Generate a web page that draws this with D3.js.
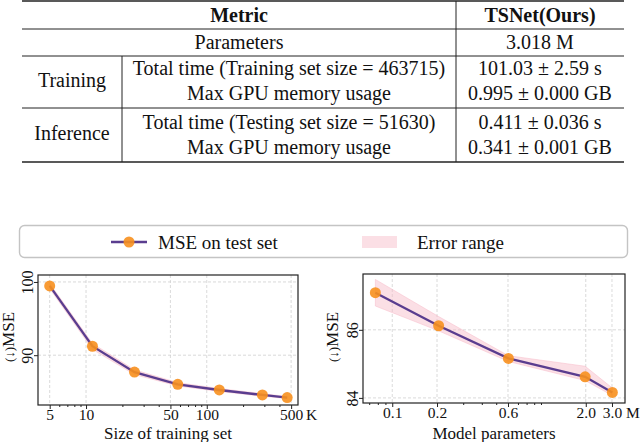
<!DOCTYPE html>
<html>
<head>
<meta charset="utf-8">
<script src="https://cdn.jsdelivr.net/npm/d3@7"></script>
<style>
  body { margin: 0; background: #fff; }
  svg text { font-family: "Liberation Serif", "Times New Roman", serif; fill: #111; }
</style>
</head>
<body>
<div id="chart"></div>
<script>
// Table content
var tableHeader = ["Metric", "TSNet(Ours)"];
var phaseLabels = ["Training", "Inference"];
var rowMetrics = ["Parameters",
    "Total time (Training set size = 463715)", "Max GPU memory usage",
    "Total time (Testing set size = 51630)", "Max GPU memory usage"];
var rowResults = ["3.018 M", "101.03 ± 2.59 s", "0.995 ± 0.000 GB", "0.411 ± 0.036 s", "0.341 ± 0.001 GB"];

// Legend
var legendLabels = ["MSE on test set", "Error range"];

// Left chart: size of training set (K)
var trainSizes = [5, 11.3, 25.2, 57.5, 127, 289, 463.7];
var trainMse = [99.46, 91.22, 87.69, 86.02, 85.25, 84.57, 84.22];
var trainLow = [99.1, 90.8, 87.35, 85.8, 85.05, 84.4, 84.08];
var trainHigh = [99.8, 91.6, 88.0, 86.25, 85.45, 84.75, 84.36];
var sizeTicks = [5, 10, 50, 100, 500];
var sizeMinor = [6, 7, 8, 9, 20, 30, 40, 60, 70, 80, 90, 200, 300, 400];
var trainMseTicks = [90, 100];

// Right chart: model parameters (M)
var modelParams = [0.077, 0.205, 0.604, 1.98, 3.018];
var paramMse = [87.09, 86.12, 85.16, 84.62, 84.16];
var paramLow = [86.70, 85.97, 85.07, 84.51, 84.07];
var paramHigh = [87.48, 86.39, 85.24, 84.93, 84.29];
var paramTicks = [0.1, 0.2, 0.6, 2.0, 3.0];
var paramMinor = [0.07, 0.08, 0.09, 0.3, 0.4, 0.5, 0.7, 0.8, 0.9, 1.0];
var paramMseTicks = [84, 86];

function init() {
    var w = 640, h = 442;
    var svg = d3.select("#chart").append("svg")
        .attr("width", w)
        .attr("height", h);

    var purple = "#5a3d8f";
    var orange = "#f7901e";
    var pink = "#f7b8c6";

    // ---------- table ----------
    var tLeft = 22, tRight = 624, tSplit = 456, tInner = 122;
    var rules = [1, 29, 56, 108, 162];
    var rowY = [42, 68, 93, 122, 147];
    var phaseY = [80, 133];

    rules.forEach(function (y, i) {
        svg.append("line")
            .attr("x1", tLeft).attr("x2", tRight)
            .attr("y1", y).attr("y2", y)
            .attr("stroke", "#222")
            .attr("stroke-width", (i === 0 || i === rules.length - 1) ? 1.6 : 1);
    });
    svg.append("line")
        .attr("x1", tSplit).attr("x2", tSplit)
        .attr("y1", rules[0]).attr("y2", rules[4])
        .attr("stroke", "#222");
    svg.append("line")
        .attr("x1", tInner).attr("x2", tInner)
        .attr("y1", rules[2]).attr("y2", rules[4])
        .attr("stroke", "#222");

    svg.append("text")
        .attr("x", (tLeft + tSplit) / 2).attr("y", 15).attr("dy", "0.35em")
        .attr("text-anchor", "middle").attr("font-size", 20).attr("font-weight", "bold")
        .text(tableHeader[0]);
    svg.append("text")
        .attr("x", (tSplit + tRight) / 2).attr("y", 15).attr("dy", "0.35em")
        .attr("text-anchor", "middle").attr("font-size", 20).attr("font-weight", "bold")
        .text(tableHeader[1]);

    svg.selectAll(".metric")
        .data(rowMetrics)
        .enter().append("text")
        .attr("class", "metric")
        .attr("x", function (d, i) { return i === 0 ? (tLeft + tSplit) / 2 : (tInner + tSplit) / 2; })
        .attr("y", function (d, i) { return rowY[i]; })
        .attr("dy", "0.35em")
        .attr("text-anchor", "middle")
        .attr("font-size", 20)
        .text(function (d) { return d; });

    svg.selectAll(".result")
        .data(rowResults)
        .enter().append("text")
        .attr("class", "result")
        .attr("x", (tSplit + tRight) / 2)
        .attr("y", function (d, i) { return rowY[i]; })
        .attr("dy", "0.35em")
        .attr("text-anchor", "middle")
        .attr("font-size", 20)
        .text(function (d) { return d; });

    svg.selectAll(".phase")
        .data(phaseLabels)
        .enter().append("text")
        .attr("class", "phase")
        .attr("x", (tLeft + tInner) / 2)
        .attr("y", function (d, i) { return phaseY[i]; })
        .attr("dy", "0.35em")
        .attr("text-anchor", "middle")
        .attr("font-size", 20)
        .text(function (d) { return d; });

    // ---------- legend ----------
    var lg = svg.append("g");
    lg.append("rect")
        .attr("x", 19.5).attr("y", 225.5)
        .attr("width", 608).attr("height", 32)
        .attr("rx", 5)
        .attr("fill", "#fff")
        .attr("stroke", "#c4c4c4")
        .attr("stroke-width", 1.4);
    lg.append("line")
        .attr("x1", 111).attr("x2", 147).attr("y1", 242).attr("y2", 242)
        .attr("stroke", purple).attr("stroke-width", 2.5);
    lg.append("circle")
        .attr("cx", 129).attr("cy", 242).attr("r", 5.5)
        .attr("fill", orange).attr("fill-opacity", 0.9);
    lg.append("text")
        .attr("x", 158).attr("y", 242).attr("dy", "0.35em")
        .attr("font-size", 19)
        .text(legendLabels[0]);
    lg.append("rect")
        .attr("x", 362).attr("y", 236)
        .attr("width", 35).attr("height", 12)
        .attr("fill", pink).attr("fill-opacity", 0.45);
    lg.append("text")
        .attr("x", 417).attr("y", 242).attr("dy", "0.35em")
        .attr("font-size", 19)
        .text(legendLabels[1]);

    // ---------- charts ----------
    function drawChart(o) {
        var x = d3.scaleLog().domain(o.xDomain).range([o.left, o.right]);
        var y = d3.scaleLinear().domain(o.yDomain).range([o.bottom, o.top]);
        var g = svg.append("g");

        // grid
        g.selectAll(".gx").data(o.xTicks).enter().append("line")
            .attr("x1", function (d) { return x(d); }).attr("x2", function (d) { return x(d); })
            .attr("y1", o.top).attr("y2", o.bottom)
            .attr("stroke", "#d0d0d0").attr("stroke-width", 0.8).attr("stroke-dasharray", "3,2");
        g.selectAll(".gy").data(o.yTicks).enter().append("line")
            .attr("x1", o.left).attr("x2", o.right)
            .attr("y1", function (d) { return y(d); }).attr("y2", function (d) { return y(d); })
            .attr("stroke", "#d0d0d0").attr("stroke-width", 0.8).attr("stroke-dasharray", "3,2");

        // error band
        var area = d3.area()
            .x(function (d, i) { return x(o.xs[i]); })
            .y0(function (d, i) { return y(o.low[i]); })
            .y1(function (d, i) { return y(o.high[i]); });
        g.append("path")
            .datum(o.ys)
            .attr("d", area)
            .attr("fill", pink).attr("fill-opacity", 0.45)
            .attr("stroke", pink).attr("stroke-opacity", 0.6).attr("stroke-width", 0.8);

        // line
        var line = d3.line()
            .x(function (d, i) { return x(o.xs[i]); })
            .y(function (d) { return y(d); });
        g.append("path")
            .datum(o.ys)
            .attr("d", line)
            .attr("fill", "none")
            .attr("stroke", purple).attr("stroke-width", 2.3);

        g.selectAll(".pt").data(o.ys).enter().append("circle")
            .attr("cx", function (d, i) { return x(o.xs[i]); })
            .attr("cy", function (d) { return y(d); })
            .attr("r", 5.5)
            .attr("fill", orange).attr("fill-opacity", 0.9);

        // frame
        g.append("rect")
            .attr("x", o.left).attr("y", o.top)
            .attr("width", o.right - o.left).attr("height", o.bottom - o.top)
            .attr("fill", "none").attr("stroke", "#222").attr("stroke-width", 1.2);

        // x axis
        var xa = g.append("g")
            .attr("transform", "translate(0," + o.bottom + ")")
            .call(d3.axisBottom(x).tickValues(o.xTicks).tickFormat(o.xFormat).tickSize(4).tickPadding(0));
        xa.select(".domain").remove();
        xa.selectAll("text").attr("font-size", 15.5).attr("font-family", "Liberation Serif").attr("fill", "#111");
        xa.selectAll("line").attr("stroke", "#222");
        var xm = g.append("g")
            .attr("transform", "translate(0," + o.bottom + ")")
            .call(d3.axisBottom(x).tickValues(o.xMinor).tickFormat("").tickSize(2));
        xm.select(".domain").remove();
        xm.selectAll("line").attr("stroke", "#222");

        // y axis, labels turned to read upward
        var ya = g.append("g")
            .attr("transform", "translate(" + o.left + ",0)")
            .call(d3.axisLeft(y).tickValues(o.yTicks).tickFormat(d3.format("d")).tickSize(4));
        ya.select(".domain").remove();
        ya.selectAll("line").attr("stroke", "#222");
        ya.selectAll("text")
            .attr("font-size", 16).attr("font-family", "Liberation Serif").attr("fill", "#111")
            .attr("text-anchor", "middle")
            .attr("transform", "rotate(-90)")
            .attr("x", 0)
            .attr("y", -5)
            .attr("dy", null);

        // unit label
        g.append("text")
            .attr("x", o.unitX).attr("y", o.bottom + 4).attr("dy", "0.71em")
            .attr("font-size", 15.5)
            .text(o.unit);

        // axis titles
        g.append("text")
            .attr("x", (o.left + o.right) / 2).attr("y", 439)
            .attr("text-anchor", "middle")
            .attr("font-size", 17)
            .text(o.xTitle);

        var yt = g.append("text")
            .attr("transform", "translate(" + o.yTitleX + ",337) rotate(-90)")
            .attr("text-anchor", "middle")
            .attr("dy", "0.35em")
            .attr("font-size", 17);
        yt.append("tspan").attr("font-size", 13).text("(↓)");
        yt.append("tspan").text("MSE");
    }

    drawChart({
        left: 38, right: 298, top: 275, bottom: 405,
        xDomain: [4.0, 570], yDomain: [83.2, 100.95],
        xs: trainSizes, ys: trainMse, low: trainLow, high: trainHigh,
        xTicks: sizeTicks, xMinor: sizeMinor, yTicks: trainMseTicks,
        xFormat: function (d) { return d; },
        unit: "K", unitX: 306,
        xTitle: "Size of training set", yTitleX: 8
    });

    drawChart({
        left: 363, right: 625, top: 274, bottom: 403,
        xDomain: [0.0636, 3.67], yDomain: [83.85, 87.64],
        xs: modelParams, ys: paramMse, low: paramLow, high: paramHigh,
        xTicks: paramTicks, xMinor: paramMinor, yTicks: paramMseTicks,
        xFormat: d3.format(".1f"),
        unit: "M", unitX: 626,
        xTitle: "Model parameters", yTitleX: 332
    });
}
window.onload = init;
</script>
</body>
</html>
